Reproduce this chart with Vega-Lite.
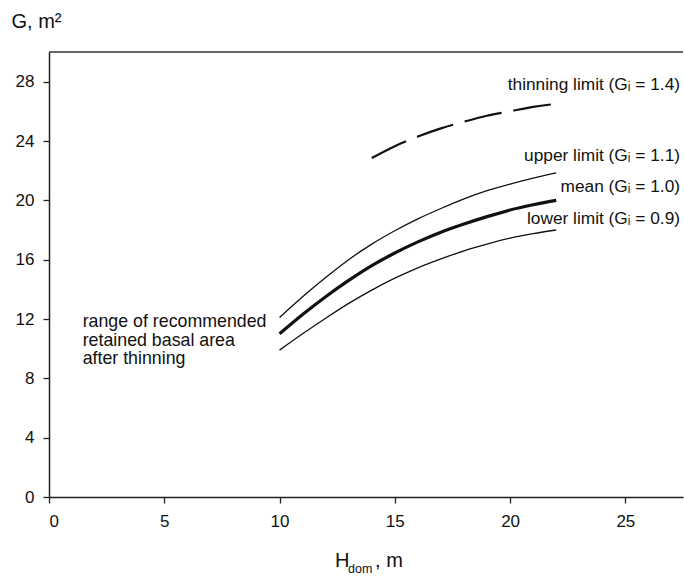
{
  "$schema": "https://vega.github.io/schema/vega-lite/v6.json",
  "width": 634,
  "height": 445,
  "autosize": "none",
  "padding": {"left": 49, "top": 52, "right": 1, "bottom": 80},
  "background": "white",
  "config": {
    "view": {"stroke": null},
    "font": "Liberation Sans",
    "text": {"font": "Liberation Sans", "color": "#111"}
  },
  "datasets": {
    "curves": [
      {"series": "mean", "h": 10, "g": 11.0},
      {"series": "mean", "h": 11, "g": 12.3},
      {"series": "mean", "h": 12, "g": 13.5},
      {"series": "mean", "h": 13, "g": 14.6},
      {"series": "mean", "h": 14, "g": 15.6},
      {"series": "mean", "h": 15, "g": 16.45},
      {"series": "mean", "h": 16, "g": 17.2},
      {"series": "mean", "h": 17, "g": 17.85},
      {"series": "mean", "h": 18, "g": 18.4},
      {"series": "mean", "h": 19, "g": 18.9},
      {"series": "mean", "h": 20, "g": 19.35},
      {"series": "mean", "h": 21, "g": 19.7},
      {"series": "mean", "h": 22, "g": 20.0},
      {"series": "upper", "h": 10, "g": 12.1},
      {"series": "upper", "h": 11, "g": 13.5},
      {"series": "upper", "h": 12, "g": 14.8},
      {"series": "upper", "h": 13, "g": 16.0},
      {"series": "upper", "h": 14, "g": 17.05},
      {"series": "upper", "h": 15, "g": 17.95},
      {"series": "upper", "h": 16, "g": 18.75},
      {"series": "upper", "h": 17, "g": 19.45},
      {"series": "upper", "h": 18, "g": 20.1},
      {"series": "upper", "h": 19, "g": 20.65},
      {"series": "upper", "h": 20, "g": 21.1},
      {"series": "upper", "h": 21, "g": 21.5},
      {"series": "upper", "h": 22, "g": 21.85},
      {"series": "lower", "h": 10, "g": 9.9},
      {"series": "lower", "h": 11, "g": 11.0},
      {"series": "lower", "h": 12, "g": 12.05},
      {"series": "lower", "h": 13, "g": 13.05},
      {"series": "lower", "h": 14, "g": 13.95},
      {"series": "lower", "h": 15, "g": 14.75},
      {"series": "lower", "h": 16, "g": 15.45},
      {"series": "lower", "h": 17, "g": 16.05},
      {"series": "lower", "h": 18, "g": 16.6},
      {"series": "lower", "h": 19, "g": 17.05},
      {"series": "lower", "h": 20, "g": 17.45},
      {"series": "lower", "h": 21, "g": 17.75},
      {"series": "lower", "h": 22, "g": 18.0},
      {"series": "thinning", "h": 14, "g": 22.85},
      {"series": "thinning", "h": 15, "g": 23.65},
      {"series": "thinning", "h": 16, "g": 24.3},
      {"series": "thinning", "h": 17, "g": 24.85},
      {"series": "thinning", "h": 18, "g": 25.3},
      {"series": "thinning", "h": 19, "g": 25.7},
      {"series": "thinning", "h": 20, "g": 26.0},
      {"series": "thinning", "h": 21, "g": 26.3},
      {"series": "thinning", "h": 22, "g": 26.5}
    ],
    "rightLabels": [
      {"label": "thinning limit (Gᵢ = 1.4)", "h": 27.37, "g": 27.76},
      {"label": "upper limit (Gᵢ = 1.1)", "h": 27.37, "g": 22.99},
      {"label": "mean (Gᵢ = 1.0)", "h": 27.37, "g": 20.9},
      {"label": "lower limit (Gᵢ = 0.9)", "h": 27.37, "g": 18.73}
    ],
    "leftLabels": [
      {"label": "range of recommended", "h": 1.46, "g": 11.78},
      {"label": "retained basal area", "h": 1.46, "g": 10.54},
      {"label": "after thinning", "h": 1.46, "g": 9.31}
    ]
  },
  "layer": [
    {
      "data": {"name": "curves"},
      "transform": [{"filter": "datum.series === 'upper' || datum.series === 'lower'"}],
      "mark": {"type": "line", "color": "#111", "strokeWidth": 1.3, "interpolate": "monotone"},
      "encoding": {
        "detail": {"field": "series"},
        "x": {
          "field": "h", "type": "quantitative",
          "scale": {"domain": [0, 27.5], "nice": false, "zero": false},
          "axis": {
            "title": null, "values": [0, 5, 10, 15, 20, 25], "grid": false,
            "domainColor": "#222", "domainWidth": 1.5, "tickColor": "#222", "tickWidth": 1.3,
            "tickSize": 6, "labelFont": "Liberation Sans", "labelFontSize": 17, "labelColor": "#111",
            "labelPadding": 10
          }
        },
        "y": {
          "field": "g", "type": "quantitative",
          "scale": {"domain": [0, 30], "nice": false, "zero": false},
          "axis": {
            "title": "G, m²", "titleAngle": 0, "titleX": -38, "titleY": -25, "titleAlign": "left",
            "titleBaseline": "alphabetic", "titleFont": "Liberation Sans", "titleFontSize": 20,
            "titleFontWeight": "normal", "titleColor": "#111",
            "values": [0, 4, 8, 12, 16, 20, 24, 28], "grid": false,
            "domainColor": "#222", "domainWidth": 1.5, "tickColor": "#222", "tickWidth": 1.3,
            "tickSize": 6, "labelFont": "Liberation Sans", "labelFontSize": 17, "labelColor": "#111",
            "labelPadding": 9
          }
        }
      }
    },
    {
      "data": {"name": "curves"},
      "transform": [{"filter": "datum.series === 'mean'"}],
      "mark": {"type": "line", "color": "#111", "strokeWidth": 3.2, "interpolate": "monotone"},
      "encoding": {
        "x": {"field": "h", "type": "quantitative"},
        "y": {"field": "g", "type": "quantitative"}
      }
    },
    {
      "data": {"name": "curves"},
      "transform": [{"filter": "datum.series === 'thinning'"}],
      "mark": {"type": "line", "color": "#111", "strokeWidth": 2.2, "strokeDash": [38, 12], "interpolate": "monotone"},
      "encoding": {
        "x": {"field": "h", "type": "quantitative"},
        "y": {"field": "g", "type": "quantitative"}
      }
    },
    {
      "data": {"values": [{"top": 30}]},
      "mark": {"type": "rule", "color": "#333", "strokeWidth": 1.3},
      "encoding": {
        "y": {"field": "top", "type": "quantitative"}
      }
    },
    {
      "data": {"name": "rightLabels"},
      "mark": {"type": "text", "align": "right", "baseline": "middle", "fontSize": 17.3, "font": "Liberation Sans", "color": "#111"},
      "encoding": {
        "x": {"field": "h", "type": "quantitative"},
        "y": {"field": "g", "type": "quantitative"},
        "text": {"field": "label"}
      }
    },
    {
      "data": {"name": "leftLabels"},
      "mark": {"type": "text", "align": "left", "baseline": "middle", "fontSize": 17.8, "font": "Liberation Sans", "color": "#111"},
      "encoding": {
        "x": {"field": "h", "type": "quantitative"},
        "y": {"field": "g", "type": "quantitative"},
        "text": {"field": "label"}
      }
    },
    {
      "data": {"values": [{"h": 12.41, "g": -4.72}]},
      "mark": {"type": "text", "align": "left", "baseline": "alphabetic", "fontSize": 20, "font": "Liberation Sans", "color": "#111"},
      "encoding": {
        "x": {"field": "h", "type": "quantitative"},
        "y": {"field": "g", "type": "quantitative"},
        "text": {"value": "H"}
      }
    },
    {
      "data": {"values": [{"h": 12.41, "g": -4.72}]},
      "mark": {"type": "text", "align": "left", "baseline": "alphabetic", "fontSize": 12.5, "font": "Liberation Sans", "color": "#111", "dx": 13, "dy": 6},
      "encoding": {
        "x": {"field": "h", "type": "quantitative"},
        "y": {"field": "g", "type": "quantitative"},
        "text": {"value": "dom"}
      }
    },
    {
      "data": {"values": [{"h": 12.41, "g": -4.72}]},
      "mark": {"type": "text", "align": "left", "baseline": "alphabetic", "fontSize": 20, "font": "Liberation Sans", "color": "#111", "dx": 40},
      "encoding": {
        "x": {"field": "h", "type": "quantitative"},
        "y": {"field": "g", "type": "quantitative"},
        "text": {"value": ", m"}
      }
    }
  ]
}
